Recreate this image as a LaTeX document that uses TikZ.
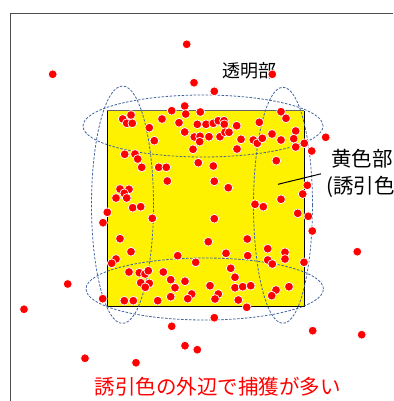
\documentclass[tikz,border=0pt]{standalone}
\usepackage{fontspec}
\newfontfamily\jp{Noto Sans CJK JP}
\definecolor{zoneblue}{RGB}{66,100,160}
\begin{document}
\begin{tikzpicture}[x=1pt,y=-1pt,
  dot/.style={fill=red,draw=white,line width=0.7pt},
  zone/.style={draw=zoneblue,dash pattern=on 2.5pt off 1.5pt,line width=0.8pt},
  lbl/.style={font=\jp\fontsize{18}{20}\selectfont,inner sep=0pt},
  big/.style={font=\jp\fontsize{20.5}{22}\selectfont},
  framecol/.style={draw=black!70,line width=1.3pt}]
\useasboundingbox (0,0) rectangle (393,401);
\clip (0,0) rectangle (393,401);
% frame
\coordinate (f1) at (10.3,401);
\coordinate (f2) at (10.3,13.3);
\coordinate (f3) at (393,13.3);
\draw[framecol] (f1) -- (f2) -- (f3);
% yellow area
\fill[yellow] (107.3,110.7) rectangle (304.3,306.7);
\draw[black,line width=1.2pt] (107.3,110.7) -- (107.3,306.7) -- (304.3,306.7) -- (304.3,110.7);
\draw[black!60,line width=1.4pt] (107.3,110.7) -- (304.3,110.7);
% zones
\draw[zone] (203,126) ellipse [x radius=120pt,y radius=31pt];
\draw[zone] (204.7,289) ellipse [x radius=118.7pt,y radius=31pt];
\draw[zone] (122.5,204.7) ellipse [x radius=31pt,y radius=118.7pt];
\draw[zone] (283,205.3) ellipse [x radius=29.5pt,y radius=118pt];
% labels
\node[lbl,anchor=center] (tm) at (249,71) {透明部};
\node[lbl,anchor=west,big] (ky) at (331,159) {黄色部};
\node[lbl,anchor=west,big] (yu) at (326,187) {(誘引色)};
\coordinate (lp) at (278,184.3);
\coordinate (lq) at (321,173.8);
\draw[black,line width=1pt] (lp) -- (lq);
\node[lbl,text=red,big] (cap) at (217.5,386.7) {誘引色の外辺で捕獲が多い};
% dots
\foreach \x/\y in {
122.7/119,131/115,126.7/123.3,132.3/123.3,149.3/127.7,154.3/140.7,162/119,171.7/110.7,
184.7/106,185.7/114,179/122.7,184.7/132,200.3/112,197.3/124.3,206/124.3,194.3/137,
200/136.3,199.7/141.7,193/149.3,124.7/154.3,135/154,137.7/159,141.7/167.3,158.7/167.3,
166.3/167.3,198.3/162.7,213.3/123.3,218.3/120.7,224/120.7,224.3/124.3,236.7/125.7,
209/136.7,220/136.7,225/132.3,229/132.3,241/139.3,237/149,259.3/122.3,253.3/140,
257.3/143.3,262.3/138.3,272/134,281/140,281/111.7,286/118.3,295.7/131,293.7/138.7,
295.7/147,304.3/143.3,311.7/151,276.3/160.7,213.3/166,325.7/137.3,
167.3/181,120/189,129/189.3,124.3/193.3,116/198,126.7/198,132.7/207.7,140.7/206.7,
107.3/212.3,103/222.7,152.3/218.3,120/238.7,208.3/241.7,214.3/181.3,228.3/187.7,
255/204.3,263.3/206.7,281/199.3,307.3/185.3,302.7/194,297.7/213.3,308.3/216.3,
312.3/231,214.3/218.7,247.3/239,
131/251.7,116/259,111.7/263.3,129/272,139.3/272.7,145/274,148.3/270.7,163.3/272,
177.7/255.7,195.7/262.3,140.7/282.7,149.3/283.3,145.3/287.3,170.7/279.7,175/287.7,
185/281.3,191.7/294,187.7/298.7,170.7/296.7,157.7/300.7,133.3/300.7,124.3/300.7,
102.7/298.7,226/253.3,247.7/255.7,267.7/248.7,285/252.3,285/259,267.7/260,272.3/264,
304/262.3,230.7/268.3,235/277.3,210/285.7,235/287.7,242.7/286.7,250.7/285.7,
218.3/294,215/299,238.3/300,276/290,271.7/295.7,289/286.7,246.7/307.3,
186.7/44.3,52.7/74.3,194/82.7,214.3/91.3,272.3/74.3,357.3/251.7,67.7/284,24/309.3,
214.3/317.7,171.7/326.3,185/345.7,197.3/349.7,85/358.3,136/362.7,312.7/330.7,361.7/334.7}
  \filldraw[dot] (\x,\y) circle [radius=4.4pt];
\end{tikzpicture}
\end{document}
